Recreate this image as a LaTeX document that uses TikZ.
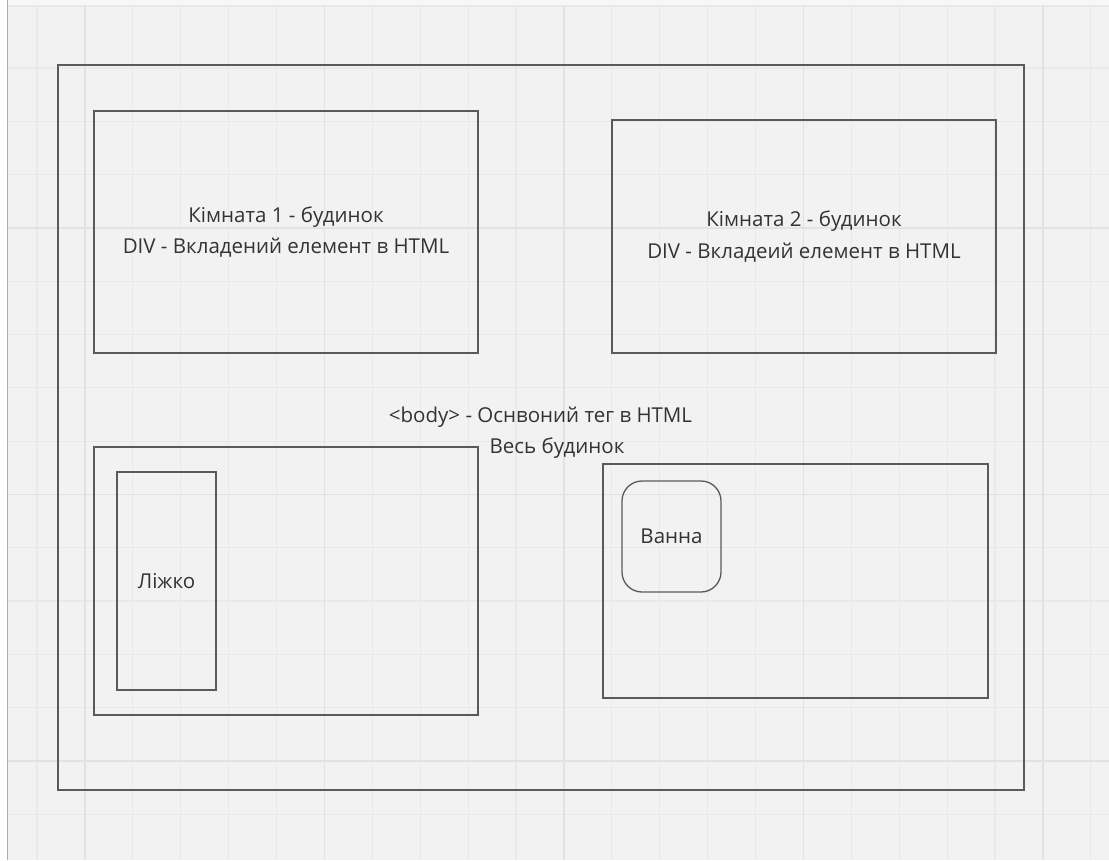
\documentclass[tikz,border=0pt]{standalone}
\usepackage{fontspec}
\setmainfont{Open Sans}
\definecolor{canvas}{HTML}{F2F2F2}
\definecolor{gridminor}{HTML}{E9E9E9}
\definecolor{gridmajor}{HTML}{E2E2E2}
\definecolor{boxline}{HTML}{5A5A5A}
\definecolor{txt}{HTML}{333333}
\begin{document}
\begin{tikzpicture}[x=1pt, y=-1pt,
        box/.style={draw=boxline, line width=1.3pt, inner sep=0pt, outer sep=0pt},
        roomtext/.style={text=txt, font=\fontsize{20.5}{31.5}\selectfont, align=center},
        gridline/.style={gridminor, line width=1.1pt},
        gridbold/.style={gridmajor, line width=1.5pt}
    ]
    \useasboundingbox (0,0) rectangle (1109,860);
    % Background
    \fill[white] (0,0) rectangle (1109,860);
    \fill[canvas!60!white] (7,0) rectangle (1109,6);
    \fill[canvas] (7,6) rectangle (1109,860);
    \draw[gridline] (7,6) -- (1109,6);
    \draw[boxline!50!white, line width=1pt] (7,0) -- (7,860);
    % Grid
    \foreach \i in {0,...,22}
        \draw[gridline] ({37+47.9*\i},6) -- ({37+47.9*\i},860);
    \foreach \j in {0,...,14}
        \draw[gridline] (7.5,{68+53.3*\j}) -- (1109,{68+53.3*\j});
    \foreach \i in {0,...,4}
        \draw[gridbold] ({85+239.5*\i},6) -- ({85+239.5*\i},860);
    \foreach \j in {0,...,2}
        \draw[gridbold] (7.5,{228+266.5*\j}) -- (1109,{228+266.5*\j});
    % Nodes
    \node[box, minimum width=966pt, minimum height=725pt] (house) at (541,427.5) {};
    \node[box, roomtext, minimum width=384pt, minimum height=242pt] (room1) at (286,232)
        {Кімната 1 - будинок\\DIV - Вкладений елемент в HTML};
    \node[box, roomtext, minimum width=384pt, minimum height=233pt] (room2) at (804,236.5)
        {Кімната 2 - будинок\\DIV - Вкладеий елемент в HTML};
    \node[roomtext, anchor=base] (body1) at (540.5,422) {<body> - Оснвоний тег в HTML};
    \node[roomtext, anchor=base] (body2) at (557,453) {Весь будинок};
    \node[box, minimum width=384pt, minimum height=268pt] (room3) at (286,581) {};
    \node[box, minimum width=385pt, minimum height=234pt] (room4) at (795.5,581) {};
    \node[box, roomtext, minimum width=99pt, minimum height=218pt] (bed) at (166.5,581) {Ліжко};
    \node[box, roomtext, rounded corners=20pt, minimum width=99pt, minimum height=111pt] (bath) at (671.5,536.5) {Ванна};
\end{tikzpicture}
\end{document}
